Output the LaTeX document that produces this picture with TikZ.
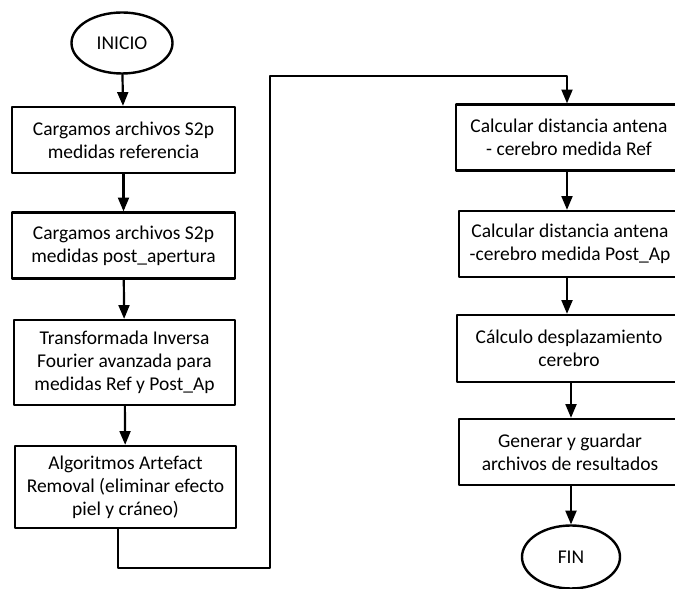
\documentclass[tikz,border=0pt]{standalone}
\usepackage{fontspec}
\setmainfont{Carlito}
\usetikzlibrary{arrows,shapes.geometric}

\begin{document}
\begin{tikzpicture}[line cap=round,line join=round,>=triangle 45,x=1pt,y=1pt,
  font=\fontsize{19.5}{23}\selectfont,
  paso/.style={draw,line width=2.6pt,rectangle,align=center,minimum height=66pt,inner sep=1pt},
  extremo/.style={draw,line width=2.4pt,ellipse,minimum width=101pt,minimum height=61pt,inner sep=0pt},
  flecha/.style={->,line width=2.2pt}]
\clip(0,0) rectangle (675,589);
\node[extremo] (inicio) at (122,546) {INICIO};
\node[paso,minimum width=223pt] (cargaref) at (123.5,449) {Cargamos archivos S2p\\medidas referencia};
\node[paso,minimum width=223pt] (cargapost) at (123.5,343.5) {Cargamos archivos S2p\\medidas post\_apertura};
\node[paso,minimum width=221pt,minimum height=85pt] (fourier) at (124.5,226.5) {Transformada Inversa\\Fourier avanzada para\\medidas Ref y Post\_Ap};
\node[paso,minimum width=221pt,minimum height=82pt] (artefact) at (125.5,102) {Algoritmos Artefact\\Removal (eliminar efecto\\piel y cr\'aneo)};
\node[paso,minimum width=226pt] (distref) at (569,451.5) {Calcular distancia antena\\- cerebro medida Ref};
\node[paso,minimum width=222pt] (distpost) at (570,345) {Calcular distancia antena\\-cerebro medida Post\_Ap};
\node[paso,minimum width=224pt,minimum height=67pt] (despl) at (569,240.5) {C\'alculo desplazamiento\\cerebro};
\node[paso,minimum width=222pt] (guardar) at (570,137) {Generar y guardar\\archivos de resultados};
\node[extremo,minimum width=98pt,minimum height=63pt] (fin) at (571,32) {FIN};
\coordinate (abajo) at (270,21);
\coordinate (arriba) at (270,513);

\draw[flecha] (inicio) -- (cargaref);
\draw[flecha] (cargaref) -- (cargapost);
\draw[flecha] (cargapost) -- (fourier);
\draw[flecha] (fourier) -- (artefact);
\draw[flecha] (artefact.south -| 118,0) |- (abajo) -- (arriba) -| (distref.north -| 567,0);
\draw[flecha] (distref.south -| 567,0) -- (distpost.north -| 567,0);
\draw[flecha] (distpost.south -| 567,0) -- (despl.north -| 567,0);
\draw[flecha] (despl.south -| 571,0) -- (guardar.north -| 571,0);
\draw[flecha] (guardar.south -| 571,0) -- (fin);
\end{tikzpicture}
\end{document}
